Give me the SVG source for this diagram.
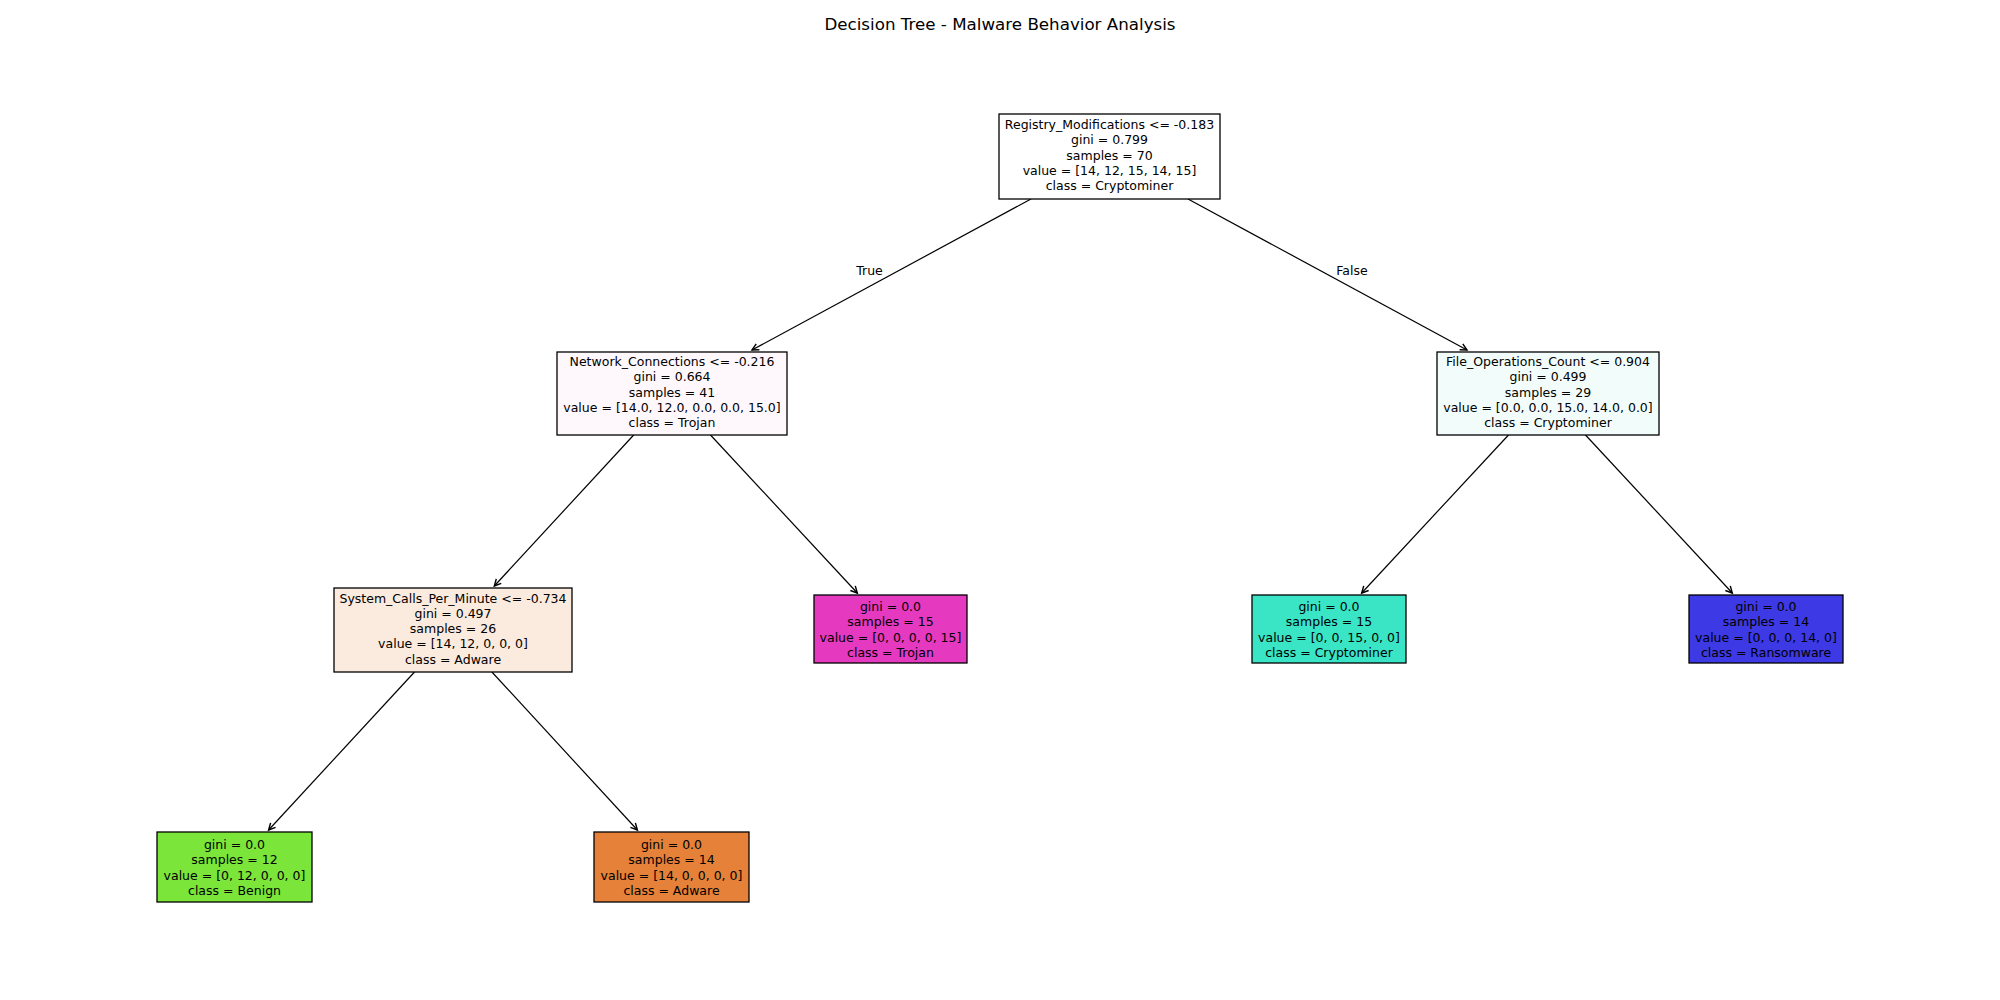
<svg xmlns="http://www.w3.org/2000/svg" width="2000" height="1000" viewBox="0 0 2000 1000">
  <style>
    text { font-family: "DejaVu Sans", "Liberation Sans", sans-serif; fill: #000; }
    .title { font-size: 16.7px; text-anchor: middle; }
    .node rect { stroke: #000; stroke-width: 1.3; }
    .node text { font-size: 12.5px; text-anchor: middle; }
    .edge { stroke: #000; stroke-width: 1.2; fill: none; marker-end: url(#head); }
    .lbl { font-size: 12.5px; text-anchor: middle; }
  </style>
  <defs>
    <marker id="head" markerUnits="userSpaceOnUse" markerWidth="12" markerHeight="12" refX="0" refY="0" viewBox="-7 -5 9 10" orient="auto" overflow="visible">
      <path d="M -5.5,-2.8 L 0,0 L -5.5,2.8" fill="none" stroke="#000" stroke-width="1.2"/>
    </marker>
  </defs>
  <rect width="2000" height="1000" fill="#fff"/>

  <text class="title" x="1000" y="29.5">Decision Tree - Malware Behavior Analysis</text>

  <!-- connectors: parent centre to child centre, clipped at box edges -->
  <g id="edges">
    <line class="edge" x1="1031" y1="199" x2="752" y2="350"/>
    <line class="edge" x1="1188" y1="199" x2="1467" y2="350"/>
    <line class="edge" x1="633.7" y1="435" x2="494.3" y2="586"/>
    <line class="edge" x1="710.5" y1="435" x2="857.3" y2="593"/>
    <line class="edge" x1="1508.5" y1="435" x2="1361.7" y2="593"/>
    <line class="edge" x1="1585.5" y1="435" x2="1732.3" y2="593"/>
    <line class="edge" x1="414.5" y1="672" x2="268.6" y2="830"/>
    <line class="edge" x1="491.9" y1="672" x2="637.4" y2="830"/>
    <text class="lbl" x="869.5" y="274.5">True</text>
    <text class="lbl" x="1352" y="274.5">False</text>
  </g>

  <g id="node-root" class="node">
    <rect x="999" y="114" width="221" height="85" fill="#ffffff"/>
    <text x="1109.5" y="129">Registry_Modifications &lt;= -0.183</text>
    <text x="1109.5" y="144.25">gini = 0.799</text>
    <text x="1109.5" y="159.5">samples = 70</text>
    <text x="1109.5" y="174.75">value = [14, 12, 15, 14, 15]</text>
    <text x="1109.5" y="190">class = Cryptominer</text>
  </g>

  <g id="node-network" class="node">
    <rect x="557" y="352" width="230" height="83" fill="#fef8fd"/>
    <text x="672" y="366">Network_Connections &lt;= -0.216</text>
    <text x="672" y="381.25">gini = 0.664</text>
    <text x="672" y="396.5">samples = 41</text>
    <text x="672" y="411.75">value = [14.0, 12.0, 0.0, 0.0, 15.0]</text>
    <text x="672" y="427">class = Trojan</text>
  </g>

  <g id="node-fileops" class="node">
    <rect x="1437" y="352" width="222" height="83" fill="#f2fdfb"/>
    <text x="1548" y="366">File_Operations_Count &lt;= 0.904</text>
    <text x="1548" y="381.25">gini = 0.499</text>
    <text x="1548" y="396.5">samples = 29</text>
    <text x="1548" y="411.75">value = [0.0, 0.0, 15.0, 14.0, 0.0]</text>
    <text x="1548" y="427">class = Cryptominer</text>
  </g>

  <g id="node-syscalls" class="node">
    <rect x="334" y="588" width="238" height="84" fill="#fbeade"/>
    <text x="453" y="602.5">System_Calls_Per_Minute &lt;= -0.734</text>
    <text x="453" y="617.75">gini = 0.497</text>
    <text x="453" y="633">samples = 26</text>
    <text x="453" y="648.25">value = [14, 12, 0, 0, 0]</text>
    <text x="453" y="663.5">class = Adware</text>
  </g>

  <g id="leaf-trojan" class="node">
    <rect x="814" y="595" width="153" height="68" fill="#e539c0"/>
    <text x="890.5" y="611">gini = 0.0</text>
    <text x="890.5" y="626.25">samples = 15</text>
    <text x="890.5" y="641.5">value = [0, 0, 0, 0, 15]</text>
    <text x="890.5" y="656.75">class = Trojan</text>
  </g>

  <g id="leaf-cryptominer" class="node">
    <rect x="1252" y="595" width="154" height="68" fill="#39e5c5"/>
    <text x="1329" y="611">gini = 0.0</text>
    <text x="1329" y="626.25">samples = 15</text>
    <text x="1329" y="641.5">value = [0, 0, 15, 0, 0]</text>
    <text x="1329" y="656.75">class = Cryptominer</text>
  </g>

  <g id="leaf-ransomware" class="node">
    <rect x="1689" y="595" width="154" height="68" fill="#3c39e5"/>
    <text x="1766" y="611">gini = 0.0</text>
    <text x="1766" y="626.25">samples = 14</text>
    <text x="1766" y="641.5">value = [0, 0, 0, 14, 0]</text>
    <text x="1766" y="656.75">class = Ransomware</text>
  </g>

  <g id="leaf-benign" class="node">
    <rect x="157" y="832" width="155" height="70" fill="#7be539"/>
    <text x="234.5" y="849">gini = 0.0</text>
    <text x="234.5" y="864.25">samples = 12</text>
    <text x="234.5" y="879.5">value = [0, 12, 0, 0, 0]</text>
    <text x="234.5" y="894.75">class = Benign</text>
  </g>

  <g id="leaf-adware" class="node">
    <rect x="594" y="832" width="155" height="70" fill="#e58139"/>
    <text x="671.5" y="849">gini = 0.0</text>
    <text x="671.5" y="864.25">samples = 14</text>
    <text x="671.5" y="879.5">value = [14, 0, 0, 0, 0]</text>
    <text x="671.5" y="894.75">class = Adware</text>
  </g>
</svg>
